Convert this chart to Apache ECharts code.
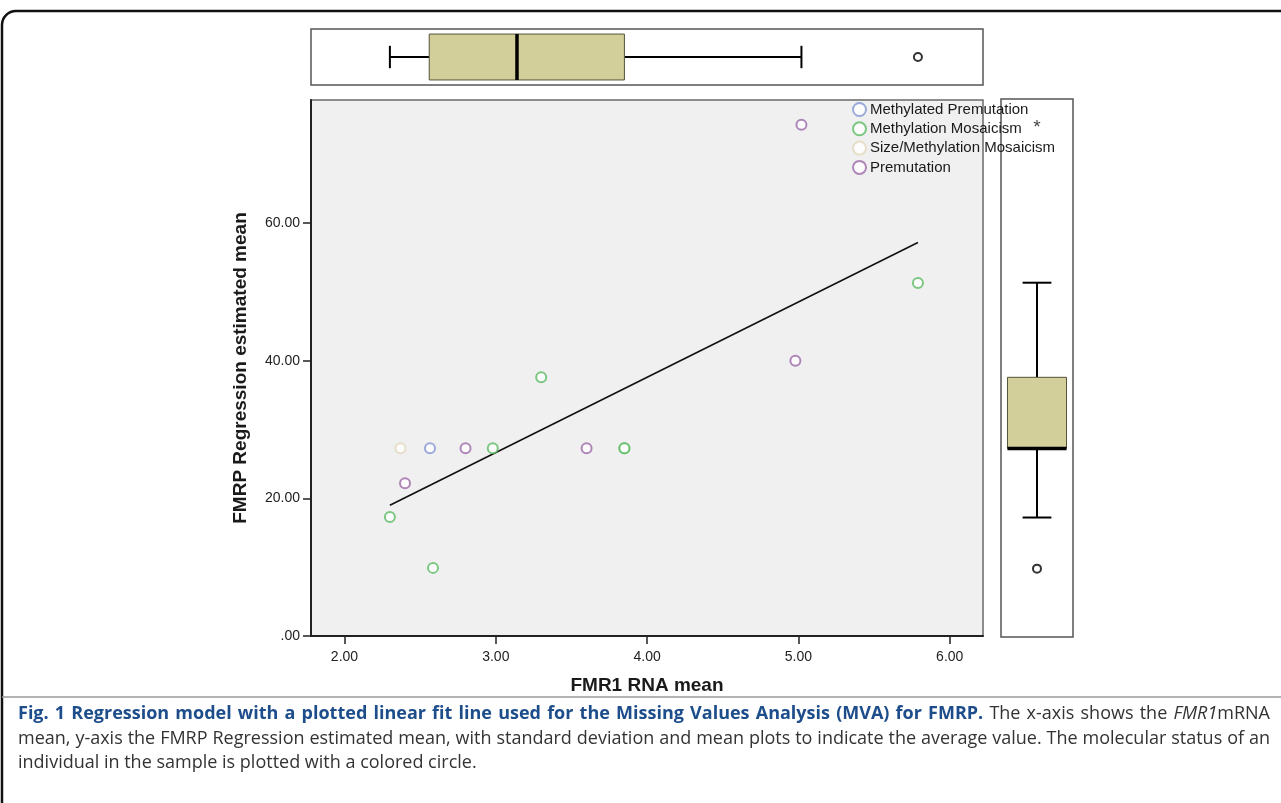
<!DOCTYPE html>
<html><head><meta charset="utf-8">
<script src="https://cdn.jsdelivr.net/npm/echarts@6/dist/echarts.min.js"></script>
<style>html,body{margin:0;padding:0;background:#fff}#c{width:1281px;height:803px}</style>
</head><body><div id="c"></div>
<script>
// ---- data ----
const groupNames = ['Methylated Premutation', 'Methylation Mosaicism', 'Size/Methylation Mosaicism', 'Premutation'];
const groupColors = ['#8396d3', '#5dbb63', '#e4d8bd', '#9c69a9'];
const methylatedPremutation = [[2.565, 27.3]];
const methylationMosaicism = [[2.30, 17.3], [2.585, 9.9], [2.98, 27.3], [3.30, 37.6], [3.85, 27.3], [3.85, 27.3], [5.79, 51.3]];
const sizeMethylationMosaicism = [[2.37, 27.3]];
const premutation = [[2.40, 22.2], [2.80, 27.3], [3.60, 27.3], [4.98, 40.0], [5.02, 74.3]];
const fitLine = [[2.30, 19.0], [5.79, 57.2]];
const xTicks = [2, 3, 4, 5, 6];
const yTicks = [0, 20, 40, 60];
const xBox = [2.30, 2.56, 3.14, 3.85, 5.02];      // min, Q1, median, Q3, max
const xOutliers = [5.79];
const yBox = [17.3, 27.3, 27.3, 37.6, 51.3];
const yOutliers = [9.9];
const yExtremes = [74.3];

const captionBold = 'Fig. 1 Regression model with a plotted linear fit line used for the Missing Values Analysis (MVA) for FMRP.';
const captionLine1Rest = 'The x-axis shows the';
const captionGene = 'FMR1';
const captionGeneTail = 'mRNA';
const captionLine2 = 'mean, y-axis the FMRP Regression estimated mean, with standard deviation and mean plots to indicate the average value. The molecular status of an';
const captionLine3 = 'individual in the sample is plotted with a colored circle.';

const X_MIN = 1.7786, X_MAX = 6.22, Y_MIN = 0, Y_MAX = 77.9;
const FONT = '"Liberation Sans", Arial, sans-serif';
const CAP = '"Open Sans", sans-serif';

const chart = echarts.init(document.getElementById('c'), null, {renderer: 'canvas'});

function boxItem(horizontal) {
  return function (params, api) {
    const q = [api.value(0), api.value(1), api.value(2), api.value(3), api.value(4)];
    const pt = horizontal ? (v, s) => api.coord([v, s]) : (v, s) => api.coord([s, v]);
    const bLo = 0.09, bHi = 0.91, cLo = 0.3, cHi = 0.7, mid = 0.5;
    const line = (a, b, w) => ({type: 'line', shape: {x1: a[0], y1: a[1], x2: b[0], y2: b[1]}, style: {stroke: '#000', lineWidth: w || 2}});
    const r1 = pt(q[1], bLo), r2 = pt(q[3], bHi);
    return {type: 'group', children: [
      line(pt(q[0], mid), pt(q[1], mid)),
      line(pt(q[3], mid), pt(q[4], mid)),
      line(pt(q[0], cLo), pt(q[0], cHi)),
      line(pt(q[4], cLo), pt(q[4], cHi)),
      {type: 'rect', shape: {x: Math.min(r1[0], r2[0]), y: Math.min(r1[1], r2[1]), width: Math.abs(r2[0] - r1[0]), height: Math.abs(r2[1] - r1[1])},
        style: {fill: '#d3cf9a', stroke: '#55533a', lineWidth: 1}},
      line(pt(q[2], bLo), pt(q[2], bHi), 3.5)
    ]};
  };
}

// ---- justified caption text ----
const capStyles = {
  b: {font: 'bold 18px ' + CAP, fill: '#1d4d8b'},
  n: {font: '18px ' + CAP, fill: '#333'},
  i: {font: 'italic 18px ' + CAP, fill: '#333'}
};
const mctx = document.createElement('canvas').getContext('2d');
function measure(t, s) { mctx.font = capStyles[s].font; return mctx.measureText(t).width; }
function toWords(text, s) { return text.split(' ').filter(Boolean).map(w => [[w, s]]); }
function captionLine(tokens, x0, x1, y, justify) {
  const widths = tokens.map(tk => tk.reduce((a, p) => a + measure(p[0], p[1]), 0));
  const total = widths.reduce((a, b) => a + b, 0);
  const gap = justify ? (x1 - x0 - total) / (tokens.length - 1) : measure(' ', 'n');
  const out = [];
  let x = x0;
  tokens.forEach((tk, k) => {
    let px = x;
    tk.forEach(p => {
      out.push({type: 'text', x: px, y: y, silent: true,
        style: {text: p[0], font: capStyles[p[1]].font, fill: capStyles[p[1]].fill, verticalAlign: 'middle', align: 'left'}});
      px += measure(p[0], p[1]);
    });
    x += widths[k] + gap;
  });
  return out;
}
const captionGraphics = [
  ...captionLine([...toWords(captionBold, 'b'), ...toWords(captionLine1Rest, 'n'), [[captionGene, 'i'], [captionGeneTail, 'n']]], 18, 1270, 714, true),
  ...captionLine(toWords(captionLine2, 'n'), 18, 1270, 739, true),
  ...captionLine(toWords(captionLine3, 'n'), 18, 1270, 763, false)
];

const scatterSeries = [methylatedPremutation, methylationMosaicism, sizeMethylationMosaicism, premutation].map((d, i) => ({
  name: groupNames[i], type: 'scatter', xAxisIndex: 0, yAxisIndex: 0, data: d,
  symbol: 'emptyCircle', symbolSize: 10,
  itemStyle: {color: groupColors[i], borderColor: groupColors[i], borderWidth: 1.6},
  z: 5
}));

const option = {
  animation: false,
  backgroundColor: '#fff',
  grid: [
    {left: 311, top: 100, width: 672, height: 536, show: true, backgroundColor: '#f0f0f0', borderColor: '#6a6a6a', borderWidth: 1.5},
    {left: 311, top: 29, width: 672, height: 56, show: true, backgroundColor: '#fff', borderColor: '#555', borderWidth: 1.5},
    {left: 1001, top: 99, width: 72, height: 538, show: true, backgroundColor: '#fff', borderColor: '#555', borderWidth: 1.5}
  ],
  xAxis: [
    {type: 'value', gridIndex: 0, min: X_MIN, max: X_MAX,
      name: 'FMR1 RNA mean', nameLocation: 'middle', nameGap: 40,
      nameTextStyle: {fontSize: 19, fontWeight: 'bold', color: '#1a1a1a', fontFamily: FONT},
      axisLine: {show: true, onZero: false, lineStyle: {color: '#222', width: 2}},
      axisTick: {show: true, inside: false, length: 8, customValues: xTicks, lineStyle: {color: '#222', width: 1.5}},
      axisLabel: {customValues: xTicks, formatter: v => v.toFixed(2), fontSize: 14, color: '#222', margin: 14, fontFamily: FONT},
      splitLine: {show: false}},
    {type: 'value', gridIndex: 1, min: X_MIN, max: X_MAX, show: false},
    {type: 'value', gridIndex: 2, min: 0, max: 1, show: false}
  ],
  yAxis: [
    {type: 'value', gridIndex: 0, min: Y_MIN, max: Y_MAX,
      name: 'FMRP Regression estimated mean', nameLocation: 'middle', nameGap: 61, nameRotate: 90,
      nameTextStyle: {fontSize: 19, fontWeight: 'bold', color: '#1a1a1a', fontFamily: FONT},
      axisLine: {show: true, onZero: false, lineStyle: {color: '#222', width: 2}},
      axisTick: {show: true, inside: false, length: 8, customValues: yTicks, lineStyle: {color: '#222', width: 1.5}},
      axisLabel: {customValues: yTicks, formatter: v => (v === 0 ? '.00' : v.toFixed(2)), fontSize: 14, color: '#222', margin: 11, fontFamily: FONT},
      splitLine: {show: false}},
    {type: 'value', gridIndex: 1, min: 0, max: 1, show: false},
    {type: 'value', gridIndex: 2, min: Y_MIN, max: Y_MAX, show: false}
  ],
  legend: {
    orient: 'vertical', left: 852, top: 102, padding: 0, itemGap: 4.3, itemWidth: 13, itemHeight: 13,
    data: groupNames.map(n => ({name: n, icon: 'emptyCircle'})),
    textStyle: {fontSize: 15, color: '#1a1a1a', fontFamily: FONT, padding: [0, 0, 0, -1]},
    itemStyle: {borderWidth: 1.6}
  },
  series: [
    ...scatterSeries,
    {type: 'line', xAxisIndex: 0, yAxisIndex: 0, data: fitLine, symbol: 'none', lineStyle: {color: '#111', width: 1.6}, z: 4, silent: true},
    {type: 'custom', xAxisIndex: 1, yAxisIndex: 1, data: [xBox], renderItem: boxItem(true), z: 3},
    {type: 'custom', xAxisIndex: 2, yAxisIndex: 2, data: [yBox], renderItem: boxItem(false), z: 3},
    {type: 'scatter', xAxisIndex: 1, yAxisIndex: 1, data: xOutliers.map(v => [v, 0.5]), symbol: 'emptyCircle', symbolSize: 8,
      itemStyle: {color: '#000', borderColor: '#000', borderWidth: 1.5}},
    {type: 'scatter', xAxisIndex: 2, yAxisIndex: 2, data: yOutliers.map(v => [0.5, v]), symbol: 'emptyCircle', symbolSize: 8,
      itemStyle: {color: '#000', borderColor: '#000', borderWidth: 1.5}},
    {type: 'scatter', xAxisIndex: 2, yAxisIndex: 2, data: yExtremes.map(v => [0.5, v]), symbolSize: 1,
      itemStyle: {color: 'rgba(0,0,0,0)'},
      label: {show: true, formatter: '*', position: 'inside', offset: [0, 4], fontSize: 19, color: '#111', fontFamily: FONT}}
  ],
  graphic: [
    {type: 'rect', shape: {x: 2, y: 11, width: 1400, height: 1000, r: 14}, style: {fill: 'none', stroke: '#111', lineWidth: 2.5}, silent: true},
    {type: 'line', shape: {x1: 2, y1: 697, x2: 1281, y2: 697}, style: {stroke: '#9a9a9a', lineWidth: 1.5}, silent: true},
    ...captionGraphics
  ]
};
chart.setOption(option);
</script>
</body></html>
